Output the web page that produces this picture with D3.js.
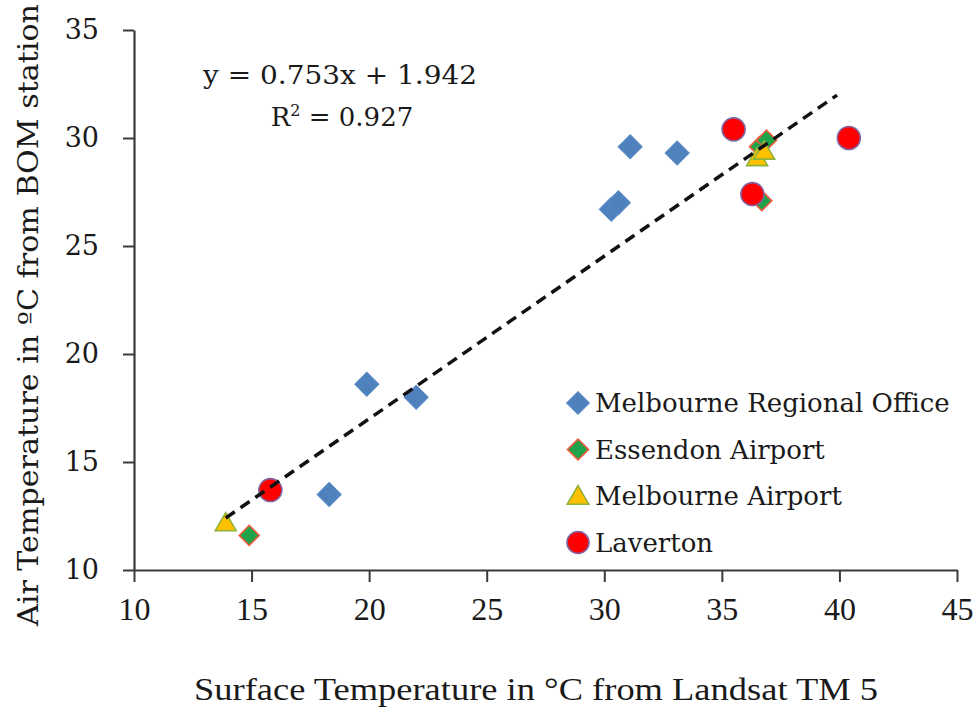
<!DOCTYPE html>
<html>
<head>
<meta charset="utf-8">
<script src="https://cdn.jsdelivr.net/npm/d3@7/dist/d3.min.js"></script>
<style>
  html, body { margin: 0; padding: 0; background: #ffffff; }
  svg { display: block; }
</style>
</head>
<body>
<svg id="chart" width="977" height="708"></svg>
<script>
// ---- data ----
const seriesNames = ["Melbourne Regional Office", "Essendon Airport", "Melbourne Airport", "Laverton"];
const mroX = [18.3, 19.9, 22.0, 30.3, 30.6, 31.1, 33.1];
const mroY = [13.5, 18.6, 18.0, 26.7, 27.0, 29.6, 29.3];
const essX = [14.9, 36.6, 36.9, 36.7];
const essY = [11.6, 29.6, 29.9, 27.1];
const melX = [13.9, 36.5, 36.8];
const melY = [12.1, 29.0, 29.3];
const lavX = [15.8, 35.5, 40.4, 36.3];
const lavY = [13.7, 30.4, 30.0, 27.4];
const trendSlope = 0.753;
const trendIntercept = 1.942;
const trendXRange = [13.9, 39.9];
const xTicks = [10, 15, 20, 25, 30, 35, 40, 45];
const yTicks = [10, 15, 20, 25, 30, 35];
const eqLabel = "y = 0.753x + 1.942";
const r2Label = "0.927";
const xTitle = "Surface Temperature in \u00B0C from Landsat TM 5";
const yTitle = "Air Temperature in \u00BAC from BOM station";

// ---- layout ----
const svg = d3.select("#chart");
const x = d3.scaleLinear().domain([10, 45]).range([134, 957]);
const y = d3.scaleLinear().domain([10, 35]).range([570, 30]);

const serif = "'DejaVu Serif', serif";
const serif2 = "'Liberation Serif', serif";

// axes
const xAxis = d3.axisBottom(x).tickValues(xTicks).tickSize(12).tickSizeOuter(0).tickPadding(15);
const yAxis = d3.axisLeft(y).tickValues(yTicks).tickSize(11).tickSizeOuter(0).tickPadding(24);

const gx = svg.append("g").attr("transform", `translate(0,${y(10)})`).call(xAxis);
const gy = svg.append("g").attr("transform", `translate(${x(10)},0)`).call(yAxis);

[gx, gy].forEach(g => {
  g.select(".domain").attr("stroke", "#3a3a3a").attr("stroke-width", 2.2);
  g.selectAll(".tick line").attr("stroke", "#3a3a3a").attr("stroke-width", 2);
  g.selectAll(".tick text").attr("fill", "#1a1a1a").attr("font-family", serif);
});
gx.selectAll(".tick text").attr("font-family", serif2).attr("font-size", 32);
gy.selectAll(".tick text").attr("font-size", 27).attr("dy", "0.32em");

// series data
const mro = mroX.map((v, i) => ({ x: v, y: mroY[i] }));
const ess = essX.map((v, i) => ({ x: v, y: essY[i] }));
const mel = melX.map((v, i) => ({ x: v, y: melY[i] }));
const lav = lavX.map((v, i) => ({ x: v, y: lavY[i] }));

const styles = [
  { sym: d3.symbolSquare, size: 290, rot: 45, fill: "#4F81BD", stroke: "#5A8AC6", sw: 1 },
  { sym: d3.symbolSquare, size: 200, rot: 45, fill: "#1FA24A", stroke: "#F05A3C", sw: 1.6 },
  { sym: d3.symbolTriangle, size: 190, rot: 0, fill: "#FFC000", stroke: "#8DB33A", sw: 1.6 },
  { sym: d3.symbolCircle, size: 415, rot: 0, fill: "#FF0000", stroke: "#8064A2", sw: 1.6 }
];
const allSeries = [mro, ess, mel, lav];

const plot = svg.append("g");
allSeries.forEach((data, si) => {
  const st = styles[si];
  plot.append("g").selectAll("path").data(data).join("path")
    .attr("d", d3.symbol().type(st.sym).size(st.size))
    .attr("transform", d => `translate(${x(d.x)},${y(d.y)}) rotate(${st.rot})`)
    .attr("fill", st.fill)
    .attr("stroke", st.stroke)
    .attr("stroke-width", st.sw);
});

// trend line
const trend = trendXRange.map(v => ({ x: v, y: trendSlope * v + trendIntercept }));
svg.append("path")
  .datum(trend)
  .attr("d", d3.line().x(d => x(d.x)).y(d => y(d.y)))
  .attr("stroke", "#111")
  .attr("stroke-width", 3.5)
  .attr("stroke-dasharray", "11,7")
  .attr("fill", "none");

// equation text
svg.append("text")
  .attr("x", 340).attr("y", 84)
  .attr("text-anchor", "middle")
  .attr("font-family", serif).attr("font-size", 26).attr("fill", "#1a1a1a")
  .attr("textLength", 274).attr("lengthAdjust", "spacingAndGlyphs")
  .text(eqLabel);
const r2 = svg.append("text")
  .attr("x", 342).attr("y", 126)
  .attr("text-anchor", "middle")
  .attr("font-family", serif).attr("font-size", 26).attr("fill", "#1a1a1a");
r2.append("tspan").text("R");
r2.append("tspan").attr("dy", -10).attr("font-size", 16).text("2");
r2.append("tspan").attr("dy", 10).text(" = " + r2Label);

// legend
const legend = svg.append("g");
const legY0 = 403, legStep = 46.5;
seriesNames.forEach((name, i) => {
  const st = styles[i];
  const cy = legY0 + i * legStep;
  const sz = i === 3 ? 380 : (i === 0 ? 260 : (i === 1 ? 220 : 200));
  legend.append("path")
    .attr("d", d3.symbol().type(st.sym).size(sz))
    .attr("transform", `translate(578,${cy + (i === 2 ? 2 : 0)}) rotate(${st.rot})`)
    .attr("fill", st.fill).attr("stroke", st.stroke).attr("stroke-width", st.sw);
  legend.append("text")
    .attr("x", 595).attr("y", cy)
    .attr("dy", "0.35em")
    .attr("font-family", serif).attr("font-size", 26).attr("fill", "#1a1a1a")
    .text(name);
});

// axis titles
svg.append("text")
  .attr("x", 536).attr("y", 700)
  .attr("text-anchor", "middle")
  .attr("font-family", serif2).attr("font-size", 32).attr("fill", "#1a1a1a")
  .attr("textLength", 684).attr("lengthAdjust", "spacingAndGlyphs")
  .text(xTitle);

svg.append("text")
  .attr("transform", "translate(38,315) rotate(-90)")
  .attr("text-anchor", "middle")
  .attr("font-family", serif).attr("font-size", 27).attr("fill", "#1a1a1a")
  .attr("textLength", 622).attr("lengthAdjust", "spacingAndGlyphs")
  .text(yTitle);
</script>
</body>
</html>
